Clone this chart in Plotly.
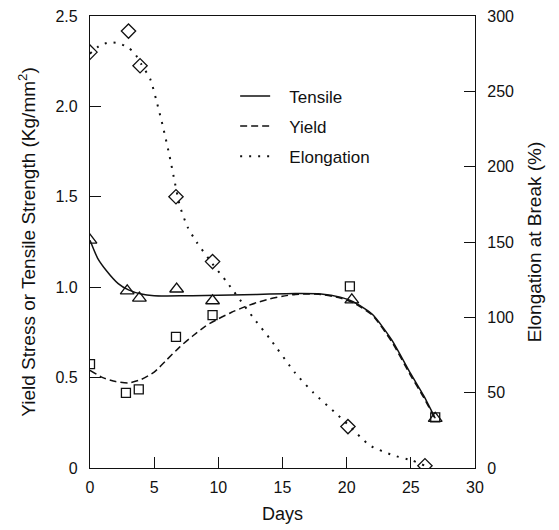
import plotly.graph_objects as go

# Measured points
tensile_days = [0, 2.9, 3.85, 6.75, 9.55, 20.4, 26.9]
tensile_vals = [1.26, 0.98, 0.94, 0.99, 0.925, 0.93, 0.275]

yield_days = [0, 2.8, 3.8, 6.7, 9.55, 20.25, 26.9]
yield_vals = [0.575, 0.415, 0.435, 0.725, 0.845, 1.005, 0.28]

elong_days = [0, 3.0, 3.9, 6.7, 9.55, 20.1, 26.1]
elong_vals = [276, 290, 267, 180, 137, 27.5, 1.5]

# Fitted trend curves
tensile_fit_days = [0, 0.6, 1.3, 2.2, 3, 4, 5, 6, 8, 10, 12, 14, 16, 18, 19.5, 20.5, 22, 23.5, 25, 26, 26.9]
tensile_fit_vals = [1.26, 1.16, 1.09, 1.02, 0.985, 0.962, 0.953, 0.952, 0.953, 0.955, 0.958, 0.962,
                    0.965, 0.963, 0.945, 0.92, 0.85, 0.71, 0.52, 0.40, 0.275]

yield_fit_days = [0, 1, 2, 3, 4, 5, 6, 7, 8, 9, 10, 11, 12, 13, 14, 15, 16, 17, 18, 19.5, 20.5,
                  22, 23.5, 25, 26, 26.9]
yield_fit_vals = [0.54, 0.50, 0.478, 0.47, 0.49, 0.53, 0.60, 0.67, 0.73, 0.785, 0.825, 0.86, 0.89,
                  0.915, 0.935, 0.95, 0.96, 0.963, 0.96, 0.94, 0.915, 0.845, 0.70, 0.51, 0.39, 0.27]

elong_fit_days = [0, 0.7, 1.5, 2.2, 3, 3.5, 4, 4.7, 5.2, 5.7, 6.2, 6.6, 7, 7.6, 8.3, 9.5, 10.7,
                  12, 12.7, 14, 16, 17.4, 19.2, 20.2, 21.8, 23.6, 25.1, 26.1]
elong_fit_vals = [275, 280, 282.5, 282, 279, 275, 268, 258, 243, 226, 207, 190, 174, 160, 150, 136,
                  123, 108, 100, 86, 63, 50, 36, 28, 15, 8.5, 5, 1.5]

x_ticks = [0, 5, 10, 15, 20, 25, 30]
left_ticks = [0, 0.5, 1.0, 1.5, 2.0, 2.5]
left_tick_text = ["0", "0.5", "1.0", "1.5", "2.0", "2.5"]
right_ticks = [0, 50, 100, 150, 200, 250, 300]

FONT = "Liberation Sans, Arial, Helvetica, sans-serif"
BLACK = "#111111"
GAP = "\u00a0\u00a0\u00a0"

fig = go.Figure()

fig.add_trace(go.Scatter(
    x=tensile_fit_days, y=tensile_fit_vals, mode="lines", name=GAP + "Tensile",
    legendgroup="t",
    line=dict(color=BLACK, width=1.5, shape="spline", smoothing=0.6),
))
fig.add_trace(go.Scatter(
    x=yield_fit_days, y=yield_fit_vals, mode="lines", name=GAP + "Yield",
    legendgroup="y",
    line=dict(color=BLACK, width=1.5, dash="7px,4px", shape="spline", smoothing=0.6),
))
fig.add_trace(go.Scatter(
    x=elong_fit_days, y=elong_fit_vals, mode="lines", name=GAP + "Elongation", yaxis="y2",
    legendgroup="e",
    line=dict(color=BLACK, width=2, dash="2px,7px", shape="spline", smoothing=0.6),
))

fig.add_trace(go.Scatter(
    x=tensile_days, y=tensile_vals, mode="markers", showlegend=False, legendgroup="t",
    marker=dict(symbol="triangle-up-open", size=12, color=BLACK, line=dict(width=1.3)),
))
fig.add_trace(go.Scatter(
    x=yield_days, y=yield_vals, mode="markers", showlegend=False, legendgroup="y",
    marker=dict(symbol="square-open", size=9, color=BLACK, line=dict(width=1.3)),
))
fig.add_trace(go.Scatter(
    x=elong_days, y=elong_vals, mode="markers", showlegend=False, yaxis="y2", legendgroup="e",
    marker=dict(symbol="diamond-open", size=11, color=BLACK, line=dict(width=1.3)),
))

fig.update_layout(
    width=559, height=530,
    margin=dict(l=90, r=84, t=16, b=62),
    paper_bgcolor="white", plot_bgcolor="white",
    font=dict(family=FONT, size=16, color=BLACK),
    showlegend=True,
    legend=dict(
        x=0.377, y=0.862, xanchor="left", yanchor="top",
        bgcolor="rgba(0,0,0,0)", font=dict(size=17, family=FONT),
        itemwidth=30, tracegroupgap=5,
    ),
    xaxis=dict(
        range=[0, 30], tickvals=x_ticks, ticks="inside", ticklen=11, tickwidth=1,
        tickcolor=BLACK, showline=True, linecolor=BLACK, linewidth=1.2, mirror=True,
        showgrid=False, zeroline=False, ticklabelstandoff=5, automargin=False,
        title=dict(text="Days", font=dict(size=18), standoff=12),
    ),
    yaxis=dict(
        range=[0, 2.5], tickvals=left_ticks, ticktext=left_tick_text, ticks="inside",
        ticklen=11, tickcolor=BLACK, showline=True, linecolor=BLACK, linewidth=1.2,
        showgrid=False, zeroline=False, ticklabelstandoff=8, automargin=False,
        title=dict(text="Yield Stress or Tensile Strength (Kg/mm<sup>2</sup>)",
                   font=dict(size=19), standoff=14),
    ),
    yaxis2=dict(
        range=[0, 300], tickvals=right_ticks, ticks="inside", ticklen=11,
        tickcolor=BLACK, overlaying="y", side="right", showline=True, linecolor=BLACK,
        linewidth=1.2, showgrid=False, zeroline=False, ticklabelstandoff=8, automargin=False,
        title=dict(text="Elongation at Break (%)", font=dict(size=19), standoff=14),
    ),
)

fig.write_html("out.html")
